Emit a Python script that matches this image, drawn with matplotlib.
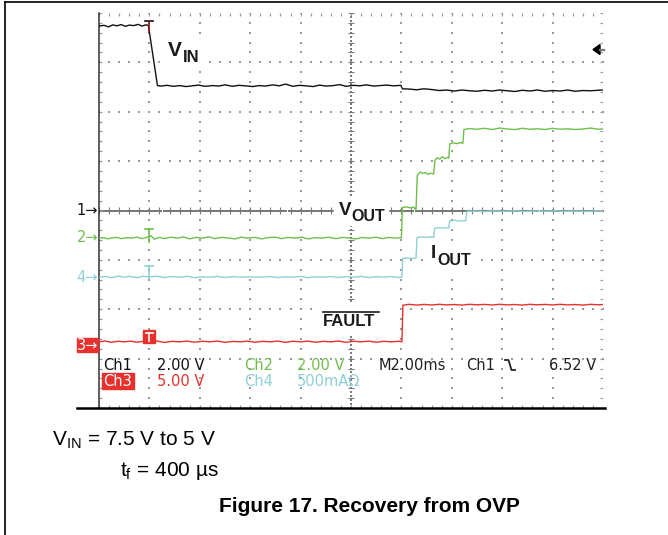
import numpy as np
import matplotlib.pyplot as plt
from matplotlib.patches import Rectangle, Polygon

plt.rcParams["font.family"] = ["Liberation Sans", "DejaVu Sans"]
plt.rcParams["mathtext.fontset"] = "custom"
plt.rcParams["mathtext.rm"] = "Liberation Sans"
plt.rcParams["mathtext.bf"] = "Liberation Sans:bold"

# scope screen: 10 x 8 div, 2 ms/div, trigger one division from the left
T_LEFT, T_RIGHT = -2.0, 18.0
MS_PER_DIV = 2.0

# per channel: units per division, ground position in divisions
CH1_SCALE, CH1_POS = 2.0, 0.0     # VIN
CH2_SCALE, CH2_POS = 2.0, -0.56   # VOUT
CH3_SCALE, CH3_POS = 5.0, -2.66   # FAULT
CH4_SCALE, CH4_POS = 0.5, -1.35   # IOUT
TRIG_LEVEL = 6.52

# traces, (time ms, value)
vin = [(-2.00, 7.47), (-1.80, 7.50), (-1.62, 7.44), (-1.45, 7.52), (-1.30, 7.48),
       (-1.12, 7.53), (-0.95, 7.46), (-0.80, 7.51), (-0.62, 7.49), (-0.45, 7.54),
       (-0.30, 7.47), (-0.15, 7.52), (-0.04, 7.50), (0.32, 5.06), (0.45, 5.04),
       (0.70, 5.07), (0.95, 5.03), (1.20, 5.06), (1.45, 5.02), (1.70, 5.05),
       (1.95, 5.08), (2.20, 5.03), (2.50, 5.06), (2.75, 5.04), (3.00, 5.09),
       (3.30, 5.03), (3.55, 5.07), (3.80, 5.05), (4.10, 5.02), (4.35, 5.06),
       (4.60, 5.04), (4.90, 5.09), (5.15, 5.05), (5.40, 5.12), (5.70, 5.03),
       (5.95, 5.07), (6.20, 5.05), (6.50, 5.02), (6.75, 5.08), (7.00, 5.04),
       (7.30, 5.06), (7.55, 5.10), (7.80, 5.03), (8.10, 5.07), (8.35, 5.05),
       (8.60, 5.09), (8.90, 5.04), (9.15, 5.06), (9.40, 5.08), (9.70, 5.05),
       (9.98, 5.07), (10.04, 4.93), (10.30, 4.92), (10.60, 4.89), (10.90, 4.93),
       (11.20, 4.90), (11.50, 4.86), (11.80, 4.88), (12.10, 4.84), (12.40, 4.88),
       (12.70, 4.85), (13.00, 4.83), (13.30, 4.87), (13.60, 4.84), (13.90, 4.88),
       (14.20, 4.85), (14.50, 4.82), (14.80, 4.87), (15.10, 4.84), (15.40, 4.88),
       (15.70, 4.83), (16.00, 4.86), (16.30, 4.84), (16.60, 4.88), (16.90, 4.83),
       (17.20, 4.86), (17.50, 4.85), (17.80, 4.87), (18.00, 4.88)]

vout = [(-2.00, 0.00), (-1.80, 0.02), (-1.65, -0.03), (-1.50, 0.01), (-1.30, 0.03),
        (-1.10, -0.02), (-0.90, 0.02), (-0.70, 0.00), (-0.50, 0.04), (-0.30, -0.02),
        (-0.10, 0.03), (0.05, 0.10), (0.20, -0.04), (0.40, 0.03), (0.60, -0.02),
        (0.85, 0.04), (1.10, 0.00), (1.35, 0.05), (1.60, -0.03), (1.85, 0.03),
        (2.10, 0.00), (2.35, 0.05), (2.60, -0.02), (2.85, 0.03), (3.10, 0.01),
        (3.40, -0.03), (3.65, 0.04), (3.90, 0.00), (4.20, 0.03), (4.45, -0.03),
        (4.70, 0.02), (5.00, 0.04), (5.25, -0.02), (5.50, 0.03), (5.80, 0.00),
        (6.05, 0.04), (6.30, -0.03), (6.60, 0.02), (6.85, 0.00), (7.10, 0.04),
        (7.40, -0.02), (7.65, 0.03), (7.90, 0.01), (8.20, -0.03), (8.45, 0.03),
        (8.70, 0.00), (9.00, 0.04), (9.25, -0.02), (9.50, 0.03), (9.75, 0.00),
        (10.00, 0.02), (10.04, 1.24), (10.20, 1.27), (10.35, 1.23), (10.50, 1.26),
        (10.58, 1.12), (10.63, 2.55), (10.75, 2.68), (10.85, 2.62), (10.95, 2.66),
        (11.05, 2.58), (11.15, 2.63), (11.28, 2.60), (11.33, 3.15), (11.42, 3.26),
        (11.52, 3.20), (11.62, 3.30), (11.72, 3.22), (11.82, 3.27), (11.88, 3.24),
        (11.92, 3.82), (12.05, 3.86), (12.20, 3.83), (12.35, 3.87), (12.44, 3.84),
        (12.48, 4.40), (12.70, 4.44), (13.00, 4.41), (13.30, 4.45), (13.60, 4.40),
        (13.90, 4.46), (14.20, 4.42), (14.50, 4.40), (14.80, 4.45), (15.10, 4.41),
        (15.40, 4.43), (15.70, 4.40), (16.00, 4.45), (16.30, 4.41), (16.60, 4.43),
        (16.90, 4.40), (17.20, 4.42), (17.50, 4.46), (17.80, 4.41), (18.00, 4.43)]

iout = [(-2.00, 0.000), (-1.75, 0.008), (-1.50, -0.006), (-1.25, 0.010), (-1.00, 0.000),
        (-0.75, 0.007), (-0.50, -0.005), (-0.25, 0.009), (0.00, 0.002), (0.30, 0.010),
        (0.60, -0.004), (0.90, 0.006), (1.20, 0.000), (1.50, 0.008), (1.80, -0.005),
        (2.10, 0.004), (2.40, 0.000), (2.70, 0.007), (3.00, -0.003), (3.30, 0.005),
        (3.60, 0.000), (3.90, 0.004), (4.20, 0.000), (4.50, 0.000), (4.80, 0.006),
        (5.10, -0.004), (5.40, 0.003), (5.70, 0.000), (6.00, 0.007), (6.30, -0.005),
        (6.60, 0.004), (6.90, 0.000), (7.20, 0.006), (7.50, -0.003), (7.80, 0.005),
        (8.10, 0.000), (8.40, 0.007), (8.70, -0.004), (9.00, 0.005), (9.30, 0.000),
        (9.60, 0.006), (9.90, -0.003), (10.02, 0.000), (10.05, 0.190), (10.25, 0.195),
        (10.45, 0.188), (10.58, 0.192), (10.62, 0.400), (10.80, 0.410), (11.00, 0.402),
        (11.15, 0.408), (11.28, 0.403), (11.32, 0.495), (11.50, 0.502), (11.70, 0.497),
        (11.88, 0.500), (11.92, 0.570), (12.10, 0.575), (12.30, 0.568), (12.55, 0.572),
        (12.60, 0.665), (12.90, 0.670), (13.30, 0.664), (13.70, 0.671), (14.10, 0.666),
        (14.50, 0.672), (14.90, 0.665), (15.30, 0.670), (15.70, 0.667), (16.10, 0.672),
        (16.50, 0.666), (16.90, 0.670), (17.30, 0.665), (17.70, 0.671), (18.00, 0.668)]

fault = [(-2.00, 0.00), (-1.75, 0.08), (-1.50, -0.05), (-1.25, 0.06), (-1.00, 0.00),
         (-0.75, 0.07), (-0.50, -0.04), (-0.25, 0.05), (0.00, 0.00), (0.30, 0.08),
         (0.60, -0.06), (0.90, 0.05), (1.20, 0.00), (1.50, 0.07), (1.80, -0.04),
         (2.10, 0.06), (2.40, 0.00), (2.70, 0.08), (3.00, -0.05), (3.30, 0.04),
         (3.60, 0.00), (3.90, 0.07), (4.20, -0.04), (4.50, 0.05), (4.80, 0.00),
         (5.10, 0.08), (5.40, -0.05), (5.70, 0.06), (6.00, 0.00), (6.30, 0.07),
         (6.60, -0.04), (6.90, 0.05), (7.20, 0.00), (7.50, 0.08), (7.80, -0.05),
         (8.10, 0.06), (8.40, 0.00), (8.70, 0.07), (9.00, -0.04), (9.30, 0.05),
         (9.60, 0.00), (9.90, 0.06), (10.02, 0.00), (10.06, 3.70), (10.30, 3.80),
         (10.60, 3.72), (10.90, 3.79), (11.20, 3.73), (11.50, 3.80), (11.80, 3.74),
         (12.10, 3.78), (12.40, 3.72), (12.70, 3.80), (13.00, 3.75), (13.30, 3.79),
         (13.60, 3.73), (13.90, 3.80), (14.20, 3.74), (14.50, 3.78), (14.80, 3.72),
         (15.10, 3.80), (15.40, 3.75), (15.70, 3.79), (16.00, 3.73), (16.30, 3.80),
         (16.60, 3.74), (16.90, 3.78), (17.20, 3.72), (17.50, 3.80), (17.80, 3.75),
         (18.00, 3.78)]

BLACK = "#111111"
GREEN = "#70bf4e"
CYAN = "#8fd0d6"
RED = "#e8302c"
GRID = "#9a9a9a"
CROSS = "#7a7a7a"


def main():
    fig = plt.figure(figsize=(6.68, 5.35), dpi=100)

    # scope screen, placed in pixels: x 99..603, y 13..408
    ax = fig.add_axes([99 / 668, (535 - 408) / 535, 504 / 668, 395 / 535])
    ax.set_xlim(T_LEFT, T_RIGHT)
    ax.set_ylim(-4, 4)
    ax.axis("off")

    minor_t = np.arange(T_LEFT, T_RIGHT + 0.001, MS_PER_DIV / 5)
    minor_y = np.arange(-4, 4.001, 0.2)
    major_t = np.arange(T_LEFT + MS_PER_DIV, T_RIGHT - 0.001, MS_PER_DIV)
    major_y = np.arange(-3, 3.001, 1.0)
    center_t = (T_LEFT + T_RIGHT) / 2

    # dotted grid
    for tx in major_t:
        if abs(tx - center_t) < 1e-6:
            continue
        ax.scatter(np.full(len(minor_y), tx), minor_y, s=1.3, marker="s",
                   color=GRID, lw=0, zorder=1)
    for yy in major_y:
        if abs(yy) < 1e-6:
            continue
        ax.scatter(minor_t, np.full(len(minor_t), yy), s=1.3, marker="s",
                   color=GRID, lw=0, zorder=1)

    # center cross with ticks
    dense_y = np.arange(-4, 4.001, 0.08)
    dense_t = np.arange(T_LEFT, T_RIGHT + 0.001, 0.08)
    ax.scatter(np.full(len(dense_y), center_t), dense_y, s=0.9, marker="s",
               color=CROSS, lw=0, zorder=1)
    ax.scatter(dense_t, np.zeros(len(dense_t)), s=0.9, marker="s",
               color=CROSS, lw=0, zorder=1)
    ax.vlines(minor_t, -0.07, 0.07, color=CROSS, lw=0.8, zorder=1)
    ax.hlines(minor_y, center_t - 0.12, center_t + 0.12, color=CROSS, lw=0.8, zorder=1)

    # edge ticks
    ax.vlines(minor_t, 3.94, 4.0, color=GRID, lw=0.9, zorder=1)
    ax.vlines(minor_t, -4.0, -3.94, color=GRID, lw=0.9, zorder=1)
    ax.hlines(minor_y, T_LEFT, T_LEFT + 0.1, color=GRID, lw=0.9, zorder=1)
    ax.hlines(minor_y, T_RIGHT - 0.1, T_RIGHT, color=GRID, lw=0.9, zorder=1)
    ax.plot([T_LEFT, T_LEFT], [-4, 4], color="#333333", lw=1.1, zorder=1,
            clip_on=False)

    # traces
    traces = [(vin, CH1_SCALE, CH1_POS, BLACK),
              (vout, CH2_SCALE, CH2_POS, GREEN),
              (iout, CH4_SCALE, CH4_POS, CYAN),
              (fault, CH3_SCALE, CH3_POS, RED)]
    for data, scale, pos, color in traces:
        t, v = np.array(data).T
        ax.plot(t, v / scale + pos, color=color, lw=1.0, zorder=3)

    # overlay in page pixels (0..668 x 0..535, y down)
    page = fig.add_axes([0, 0, 1, 1])
    page.set_xlim(0, 668)
    page.set_ylim(535, 0)
    page.axis("off")
    page.set_zorder(3)
    page.patch.set_visible(False)

    # page frame
    page.plot([5, 668], [2, 2], color="black", lw=1.2)
    page.plot([5, 5], [2, 535], color="black", lw=1.2)
    page.plot([77, 605], [408, 408], color="black", lw=1.8)

    # white boxes behind trace labels
    for x0, y0, w, h in [(160, 35, 42, 31), (334, 197, 54, 28),
                         (424, 241, 48, 31), (313, 302, 80, 32)]:
        page.add_patch(Rectangle((x0, y0), w, h, color="white", zorder=2))

    bold = dict(fontweight="bold", color="#1a1a1a", va="baseline", ha="left", zorder=4)
    page.text(167.5, 56.5, "V", fontsize=15, **bold)
    page.text(182.5, 61.5, "IN", fontsize=12, **bold)
    page.text(339, 215, "V", fontsize=13.5, **bold)
    page.text(351.5, 221, "OUT", fontsize=11.5, **bold)
    page.text(431, 258.5, "I", fontsize=13.5, **bold)
    page.text(437, 265, "OUT", fontsize=11.5, **bold)
    page.text(323, 326, "FAULT", fontsize=12, **bold)
    page.plot([323, 379], [311.5, 311.5], color="#1a1a1a", lw=1.2, zorder=4)

    # channel ground markers
    ch_kw = dict(fontsize=10.5, family="DejaVu Sans", ha="right", va="center", zorder=4)
    page.text(98, 210.5, "1\u2192", color=BLACK, **ch_kw)
    page.text(98, 238, "2\u2192", color=GREEN, **ch_kw)
    page.text(98, 277, "4\u2192", color=CYAN, **ch_kw)
    page.add_patch(Rectangle((77, 338), 21, 14, color=RED, zorder=3))
    page.text(98, 345, "3\u2192", color="white", **ch_kw)

    # trigger point markers
    page.plot([145, 153], [21, 21], color=BLACK, lw=1.2, zorder=4)
    page.plot([149, 149], [21, 32], color="#8a2020", lw=1.2, zorder=4)
    page.plot([145, 153], [229, 229], color=GREEN, lw=1.2, zorder=4)
    page.plot([149, 149], [229, 242], color=GREEN, lw=1.2, zorder=4)
    page.plot([145, 153], [266, 266], color=CYAN, lw=1.2, zorder=4)
    page.plot([149, 149], [266, 278], color=CYAN, lw=1.2, zorder=4)
    page.add_patch(Rectangle((143, 330), 12, 13, color=RED, zorder=4))
    page.plot([145.5, 152.5], [332.5, 332.5], color="white", lw=1.2, zorder=5)
    page.plot([149, 149], [332.5, 341], color="white", lw=1.2, zorder=5)

    # trigger level arrow on the right edge
    trig_y = 210.5 - TRIG_LEVEL / CH1_SCALE * 49.375
    page.add_patch(Polygon([(593, trig_y), (600, trig_y - 5), (600, trig_y + 5)],
                           closed=True, color="black", zorder=4))
    page.plot([600, 604], [trig_y, trig_y], color="#777777", lw=1.6, zorder=4)

    # readout
    ro = dict(fontsize=10.5, family="DejaVu Sans", va="center", ha="left", zorder=4)
    page.text(103, 365, "Ch1", color=BLACK, **ro)
    page.text(157, 365, "2.00 V", color=BLACK, **ro)
    page.text(244, 365, "Ch2", color=GREEN, **ro)
    page.text(297, 365, "2.00 V", color=GREEN, **ro)
    page.text(379, 365, "M2.00ms", color="#222222", **ro)
    page.text(466, 365, "Ch1", color="#222222", **ro)
    page.plot([505, 508.5, 511.5, 515], [360, 360, 370, 370], color="#222222",
              lw=1.3, zorder=4)
    page.text(549, 365, "6.52 V", color="#222222", **ro)
    page.add_patch(Rectangle((102, 373), 32, 16, color=RED, zorder=3))
    page.text(103.5, 381, "Ch3", color="white", **ro)
    page.text(157, 381, "5.00 V", color=RED, **ro)
    page.text(244, 381, "Ch4", color=CYAN, **ro)
    page.text(297, 381, "500mA\u03a9", color=CYAN, **ro)

    # caption
    page.text(52, 446, r"$\mathregular{V_{IN}}$ = 7.5 V to 5 V", fontsize=15,
              ha="left", va="baseline", color="black")
    page.text(120, 475.5, r"$\mathregular{t_f}$ = 400 µs", fontsize=15,
              ha="left", va="baseline", color="black")
    page.text(369.5, 512.5, "Figure 17. Recovery from OVP", fontsize=15,
              fontweight="bold", ha="center", va="baseline", color="black")

    fig.savefig("out.png", dpi=100)
    plt.close(fig)


if __name__ == "__main__":
    main()
